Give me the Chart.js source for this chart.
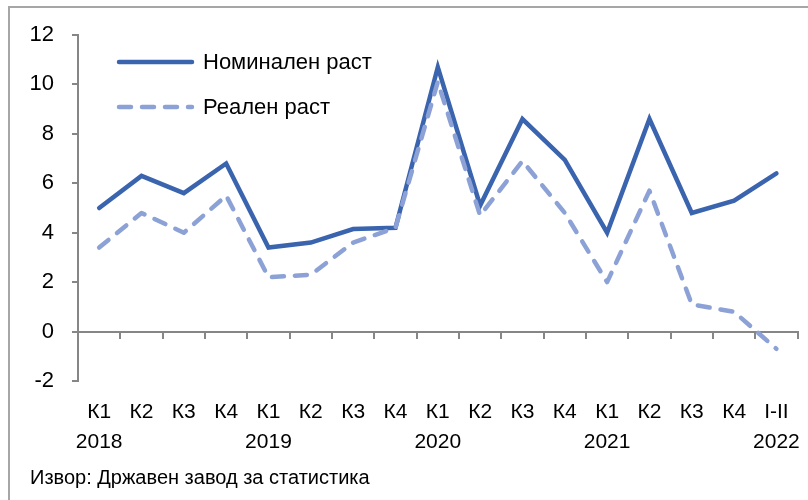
<!DOCTYPE html>
<html>
<head>
<meta charset="utf-8">
<script src="https://cdn.jsdelivr.net/npm/chart.js@4"></script>
<style>
  html, body { margin: 0; padding: 0; background: #fff; }
  #wrap { width: 808px; height: 500px; }
</style>
</head>
<body>
<div id="wrap"><canvas id="c" width="808" height="500"></canvas></div>
<script>
const quarters = ['К1','К2','К3','К4','К1','К2','К3','К4','К1','К2','К3','К4','К1','К2','К3','К4','I-II'];
const years    = ['2018','','','','2019','','','','2020','','','','2021','','','','2022'];
const nominal  = [5.0, 6.3, 5.6, 6.8, 3.4, 3.6, 4.15, 4.2, 10.7, 5.1, 8.6, 6.95, 4.0, 8.6, 4.8, 5.3, 6.4];
const real     = [3.4, 4.8, 4.0, 5.5, 2.2, 2.3, 3.6, 4.2, 10.1, 4.7, 6.9, 4.8, 2.0, 5.7, 1.1, 0.8, -0.7];
const seriesNames = ['Номинален раст', 'Реален раст'];
const sourceText = 'Извор: Државен завод за статистика';

const labels = quarters.map((q, i) => [q, years[i]]);
const FONT = '"Liberation Sans", Arial, sans-serif';
const AXIS = '#868686';
const C_NOM = '#3B64AE';
const C_REAL = '#8CA1D5';
const DASH = [12, 11];

const decor = {
  id: 'decor',
  beforeDraw(chart) {
    const ctx = chart.ctx;
    ctx.save();
    ctx.strokeStyle = '#a6a6a6';
    ctx.lineWidth = 2;
    ctx.beginPath();
    ctx.moveTo(9, 500);
    ctx.lineTo(9, 7);
    ctx.lineTo(808, 7);
    ctx.stroke();
    ctx.restore();
  },
  afterDraw(chart) {
    const ctx = chart.ctx;
    ctx.save();
    const items = [
      { name: seriesNames[0], color: C_NOM, dash: [] , y: 62 },
      { name: seriesNames[1], color: C_REAL, dash: DASH, y: 107 }
    ];
    items.forEach(it => {
      ctx.strokeStyle = it.color;
      ctx.lineWidth = 4.5;
      ctx.lineCap = 'round';
      ctx.setLineDash(it.dash);
      ctx.beginPath();
      ctx.moveTo(119, it.y);
      ctx.lineTo(192, it.y);
      ctx.stroke();
      ctx.setLineDash([]);
      ctx.fillStyle = '#000';
      ctx.font = '22px ' + FONT;
      ctx.textBaseline = 'middle';
      ctx.textAlign = 'left';
      ctx.fillText(it.name, 203, it.y + 1);
    });
    ctx.font = '20px ' + FONT;
    ctx.textBaseline = 'alphabetic';
    ctx.fillStyle = '#000';
    ctx.fillText(sourceText, 30, 484);
    ctx.restore();
  }
};

new Chart(document.getElementById('c'), {
  type: 'line',
  data: {
    labels: labels,
    datasets: [
      {
        label: seriesNames[1],
        data: real,
        xAxisID: 'x',
        borderColor: C_REAL,
        backgroundColor: C_REAL,
        borderWidth: 4.5,
        borderDash: DASH,
        borderCapStyle: 'round',
        borderJoinStyle: 'round',
        pointRadius: 0,
        tension: 0,
        fill: false
      },
      {
        label: seriesNames[0],
        data: nominal,
        xAxisID: 'x',
        borderColor: C_NOM,
        backgroundColor: C_NOM,
        borderWidth: 4.5,
        borderCapStyle: 'round',
        borderJoinStyle: 'miter',
        pointRadius: 0,
        tension: 0,
        fill: false
      }
    ]
  },
  options: {
    responsive: false,
    animation: false,
    layout: { padding: { left: 0, top: 35, right: 7, bottom: 29 } },
    plugins: { legend: { display: false }, tooltip: { enabled: false } },
    scales: {
      x: {
        type: 'category',
        position: 'bottom',
        offset: true,
        border: { display: false },
        grid: { display: false },
        ticks: {
          color: '#000',
          font: { family: FONT, size: 21, lineHeight: '30px' },
          padding: 8,
          maxRotation: 0,
          autoSkip: false
        },
        afterFit(s) { s.height = 90; }
      },
      x0: {
        type: 'category',
        position: { y: 0 },
        offset: true,
        border: { display: true, color: AXIS, width: 2 },
        grid: { display: true, offset: true, drawOnChartArea: false, drawTicks: true, tickLength: 6, color: AXIS, lineWidth: 2 },
        ticks: { display: false, autoSkip: false }
      },
      y: {
        min: -2,
        max: 12,
        border: { display: true, color: AXIS, width: 2 },
        grid: { drawOnChartArea: false, drawTicks: true, tickLength: 6, color: AXIS, lineWidth: 2 },
        ticks: {
          stepSize: 2,
          color: '#000',
          font: { family: FONT, size: 22 },
          padding: 18
        },
        afterFit(s) { s.width = 78; }
      }
    }
  },
  plugins: [decor]
});
</script>
</body>
</html>
